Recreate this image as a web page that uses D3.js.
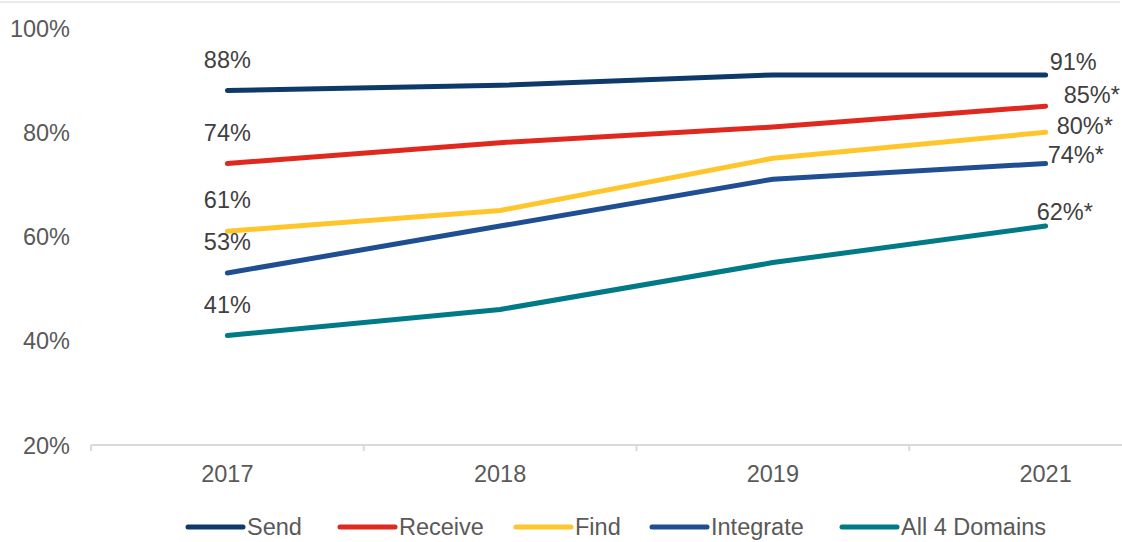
<!DOCTYPE html>
<html>
<head>
<meta charset="utf-8">
<script src="https://cdn.jsdelivr.net/npm/d3@7"></script>
<style>
  html, body { margin: 0; padding: 0; background: #fff; overflow: hidden; }
  svg { display: block; font-family: "Liberation Sans", Arial, sans-serif; }
</style>
</head>
<body>
<svg id="chart" width="1122" height="542"></svg>
<script>
// ---- Data ----
const years = ["2017", "2018", "2019", "2021"];
const seriesNames = ["Send", "Receive", "Find", "Integrate", "All 4 Domains"];
const send = [88, 89, 91, 91];
const receive = [74, 78, 81, 85];
const find = [61, 65, 75, 80];
const integrate = [53, 62, 71, 74];
const allFour = [41, 46, 55, 62];
const startLabels = ["88%", "74%", "61%", "53%", "41%"];
const endLabels = ["91%", "85%*", "80%*", "74%*", "62%*"];
const yTicks = [20, 40, 60, 80, 100];
const colors = ["#0E3A6B", "#E0281E", "#FFC62B", "#1F4E93", "#007A87"];
// label nudges (style, not data)
const endOffsets = [[4, -5], [18, -3], [11, 2], [2, -1], [-9, -6]];

const seriesValues = [send, receive, find, integrate, allFour];
const series = seriesNames.map((name, i) => ({
  name, color: colors[i], values: seriesValues[i],
  startLabel: startLabels[i], endLabel: endLabels[i], endOffset: endOffsets[i]
}));

const svg = d3.select("#chart");
const FS = 23.5;

// top border
svg.append("line").attr("x1", 0).attr("x2", 1120).attr("y1", 2).attr("y2", 2)
  .attr("stroke", "#E3E3E3").attr("stroke-width", 1.5);

const x = d3.scaleBand().domain(years).range([91, 91 + 4 * 272.75]).padding(0);
const y = d3.scaleLinear().domain([20, 100]).range([445, 28]);
const cx = d => x(d) + x.bandwidth() / 2;

// x axis
const xAxis = svg.append("g").attr("transform", "translate(0,445)")
  .call(d3.axisBottom(x).tickSize(0).tickPadding(0));
xAxis.select(".domain").remove();
xAxis.append("line").attr("x1", 91).attr("x2", 1182).attr("y1", 0).attr("y2", 0)
  .attr("stroke", "#D9D9D9").attr("stroke-width", 2);
xAxis.selectAll(".tick text").attr("dy", 0).attr("y", 37)
  .attr("fill", "#595959").attr("font-size", FS).attr("font-family", "Liberation Sans, Arial, sans-serif");
const boundaries = d3.range(0, years.length + 1).map(i => 91 + i * x.bandwidth());
xAxis.selectAll(".bnd").data(boundaries).enter().append("line")
  .attr("x1", d => d).attr("x2", d => d).attr("y1", 0).attr("y2", 6)
  .attr("stroke", "#D9D9D9").attr("stroke-width", 2);

// y axis labels
const yAxis = svg.append("g").attr("transform", "translate(70,0)")
  .call(d3.axisLeft(y).tickValues(yTicks).tickFormat(d => d + "%").tickSize(0).tickPadding(0));
yAxis.select(".domain").remove();
yAxis.selectAll(".tick text").attr("fill", "#595959").attr("font-size", FS)
  .attr("dy", "0.35em").attr("font-family", "Liberation Sans, Arial, sans-serif");

// lines
const line = d3.line().x((d, i) => cx(years[i])).y(d => y(d));
svg.append("g").selectAll("path").data(series).enter().append("path")
  .attr("d", d => line(d.values))
  .attr("fill", "none").attr("stroke", d => d.color).attr("stroke-width", 5)
  .attr("stroke-linecap", "round").attr("stroke-linejoin", "round");

// start labels
svg.append("g").selectAll("text").data(series).enter().append("text")
  .attr("x", cx(years[0])).attr("y", d => y(d.values[0]) - 23)
  .attr("text-anchor", "middle").attr("font-size", FS).attr("fill", "#404040")
  .text(d => d.startLabel);

// end labels
const last = years.length - 1;
svg.append("g").selectAll("text").data(series).enter().append("text")
  .attr("x", d => cx(years[last]) + d.endOffset[0])
  .attr("y", d => y(d.values[last]) + d.endOffset[1])
  .attr("text-anchor", "start").attr("font-size", FS).attr("fill", "#404040")
  .text(d => d.endLabel);

// legend
const legendX = [188, 340, 516, 652, 842];
const lg = svg.append("g").selectAll("g").data(series).enter().append("g")
  .attr("transform", (d, i) => `translate(${legendX[i]},527)`);
lg.append("line").attr("x1", 0).attr("x2", 55).attr("y1", 0).attr("y2", 0)
  .attr("stroke", d => d.color).attr("stroke-width", 5).attr("stroke-linecap", "round");
lg.append("text").attr("x", 59).attr("y", 8).attr("font-size", FS).attr("fill", "#595959")
  .text(d => d.name);
</script>
</body>
</html>
